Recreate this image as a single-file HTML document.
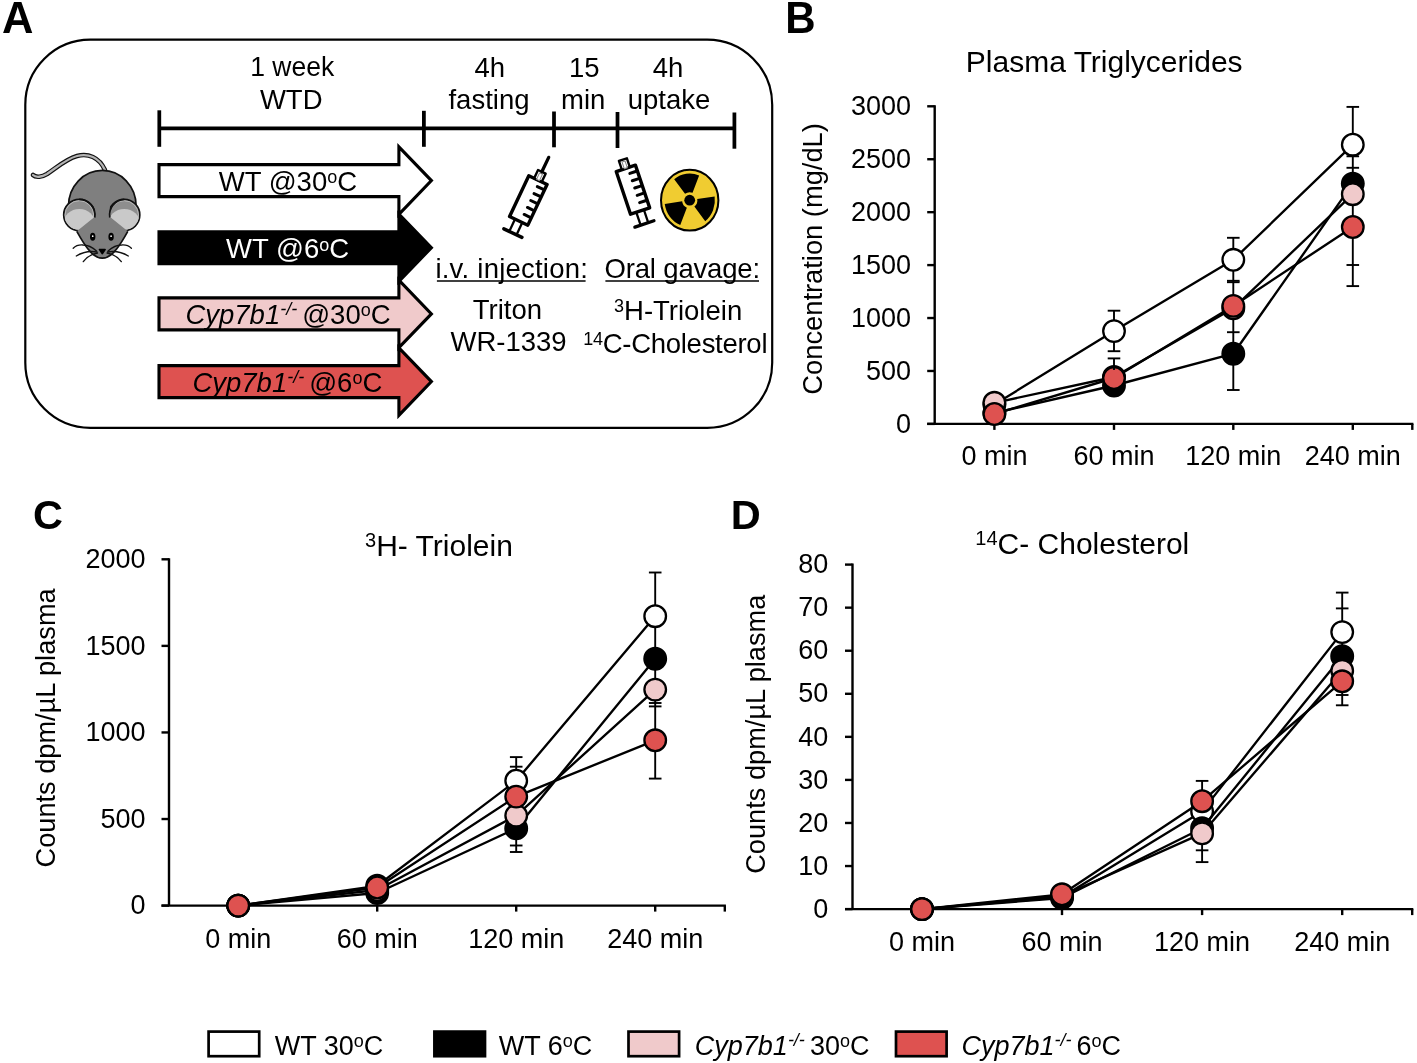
<!DOCTYPE html>
<html><head><meta charset="utf-8"><style>
html,body{margin:0;padding:0;background:#fff;overflow:hidden;}
svg{display:block;will-change:transform;}
text{font-family:"Liberation Sans",sans-serif;}
</style></head><body>
<svg width="1417" height="1063" viewBox="0 0 1417 1063" font-family="Liberation Sans, sans-serif">
<rect width="1417" height="1063" fill="#fff"/>
<text x="2.1" y="32.6" font-size="43.5" text-anchor="start" fill="#000" font-weight="bold">A</text>
<text x="785.3" y="32.8" font-size="42" text-anchor="start" fill="#000" font-weight="bold" transform="matrix(1,0,0,1.035,0,-1.148)">B</text>
<text x="33" y="529.1" font-size="41.5" text-anchor="start" fill="#000" font-weight="bold">C</text>
<text x="730.8" y="528.5" font-size="41.5" text-anchor="start" fill="#000" font-weight="bold">D</text>
<rect x="25.3" y="39.7" width="746.9" height="388.1" rx="65" ry="65" fill="none" stroke="#000" stroke-width="2.2"/>
<g stroke="#000" stroke-width="3.75" stroke-linecap="butt">
<line x1="159.3" y1="128.3" x2="734.4" y2="128.3"/>
<line x1="159.3" y1="110.3" x2="159.3" y2="146.8"/>
<line x1="423.9" y1="110.8" x2="423.9" y2="146.8"/>
<line x1="554" y1="111.5" x2="554" y2="147.3"/>
<line x1="617.5" y1="112" x2="617.5" y2="148"/>
<line x1="734.4" y1="112.5" x2="734.4" y2="148.7"/>
</g>
<text x="292.2" y="76.2" font-size="27.5" text-anchor="middle" fill="#000" textLength="84" lengthAdjust="spacingAndGlyphs">1 week</text>
<text x="291.2" y="108.8" font-size="27.5" text-anchor="middle" fill="#000">WTD</text>
<text x="489.7" y="77" font-size="27.5" text-anchor="middle" fill="#000">4h</text>
<text x="489" y="109" font-size="27.5" text-anchor="middle" fill="#000">fasting</text>
<text x="584.2" y="77" font-size="27.5" text-anchor="middle" fill="#000">15</text>
<text x="583.2" y="109" font-size="27.5" text-anchor="middle" fill="#000">min</text>
<text x="668" y="77" font-size="27.5" text-anchor="middle" fill="#000">4h</text>
<text x="669" y="109" font-size="27.5" text-anchor="middle" fill="#000">uptake</text>
<polygon points="159.0,164.6 398.9,164.6 398.9,146.89999999999998 431.4,180.6 398.9,214.3 398.9,196.6 159.0,196.6" fill="#fff" stroke="#000" stroke-width="3.1" stroke-linejoin="miter"/>
<text x="218.8" y="190.8" font-size="27.5" fill="#000">WT @30<tspan font-size="18" dy="-7.5">o</tspan><tspan dy="7.5">C</tspan></text>
<polygon points="159.0,231.7 398.9,231.7 398.9,214.0 431.4,247.7 398.9,281.4 398.9,263.7 159.0,263.7" fill="#000" stroke="#000" stroke-width="3.1" stroke-linejoin="miter"/>
<text x="226.1" y="258.2" font-size="27.5" fill="#fff">WT @6<tspan font-size="18" dy="-7.5">o</tspan><tspan dy="7.5">C</tspan></text>
<polygon points="159.0,297.9 398.9,297.9 398.9,280.2 431.4,313.9 398.9,347.59999999999997 398.9,329.9 159.0,329.9" fill="#f0cacb" stroke="#000" stroke-width="3.1" stroke-linejoin="miter"/>
<text x="185.4" y="323.6" font-size="27.5" fill="#000"><tspan font-style="italic">Cyp7b1</tspan><tspan font-style="italic" font-size="18" dy="-9">-/- </tspan><tspan dy="9">@30<tspan font-size="18" dy="-7.5">o</tspan><tspan dy="7.5">C</tspan></tspan></text>
<polygon points="159.0,365.6 398.9,365.6 398.9,347.90000000000003 431.4,381.6 398.9,415.3 398.9,397.6 159.0,397.6" fill="#de5250" stroke="#000" stroke-width="3.1" stroke-linejoin="miter"/>
<text x="192.4" y="391.8" font-size="27.5" fill="#000"><tspan font-style="italic">Cyp7b1</tspan><tspan font-style="italic" font-size="18" dy="-9">-/- </tspan><tspan dy="9">@6<tspan font-size="18" dy="-7.5">o</tspan><tspan dy="7.5">C</tspan></tspan></text>
<text x="435.4" y="277.7" font-size="27.5" textLength="152.5" lengthAdjust="spacing">i.v. injection:</text><line x1="436.9" y1="281" x2="585.6" y2="281" stroke="#000" stroke-width="1.7"/>
<text x="604.5" y="277.7" font-size="27.5" textLength="155.6" lengthAdjust="spacing">Oral gavage:</text><line x1="605.4" y1="281" x2="759" y2="281" stroke="#000" stroke-width="1.7"/>
<text x="507.4" y="318.7" font-size="27.5" text-anchor="middle" fill="#000">Triton</text>
<text x="508.5" y="351.3" font-size="27.5" text-anchor="middle" fill="#000">WR-1339</text>
<text x="614" y="320.3" font-size="27.5"><tspan font-size="18" dy="-8.4">3</tspan><tspan dy="8.4">H-Triolein</tspan></text>
<text x="583.2" y="353.2" font-size="27.5" textLength="184.3" lengthAdjust="spacing"><tspan font-size="18" dy="-8.4">14</tspan><tspan dy="8.4">C-Cholesterol</tspan></text>
<g transform="translate(528.4,200.3) rotate(25.3)" stroke="#000" fill="none" stroke-linecap="round" stroke-linejoin="round">
<rect x="-10.1" y="-22.3" width="20.2" height="45" fill="#fff" stroke-width="3.4"/>
<line x1="8.3" y1="-16.2" x2="2.2" y2="-16.2" stroke-width="3"/>
<line x1="8.3" y1="-8.5" x2="2.2" y2="-8.5" stroke-width="3"/>
<line x1="8.3" y1="-0.8" x2="2.2" y2="-0.8" stroke-width="3"/>
<line x1="8.3" y1="6.9" x2="2.2" y2="6.9" stroke-width="3"/>
<line x1="8.3" y1="14.6" x2="2.2" y2="14.6" stroke-width="3"/>
<rect x="-4.2" y="-31.5" width="8.4" height="9.2" fill="#fff" stroke-width="2.4"/>
<rect x="-1.6" y="-29.5" width="3.2" height="7" fill="#fff" stroke="#888" stroke-width="1"/>
<line x1="0" y1="-31.5" x2="0" y2="-47.5" stroke-width="3.3"/>
<line x1="-4" y1="22.7" x2="-4" y2="35" stroke-width="2.3"/>
<line x1="4" y1="22.7" x2="4" y2="35" stroke-width="2.3"/>
<line x1="-10" y1="36.3" x2="10" y2="36.3" stroke-width="3.4"/>
</g>
<g transform="translate(632.9,189.5) rotate(-18.5)" stroke="#000" fill="none" stroke-linecap="round" stroke-linejoin="round">
<rect x="-10.1" y="-22.3" width="20.2" height="45" fill="#fff" stroke-width="3.4"/>
<line x1="8.3" y1="-16.2" x2="2.2" y2="-16.2" stroke-width="3"/>
<line x1="8.3" y1="-8.5" x2="2.2" y2="-8.5" stroke-width="3"/>
<line x1="8.3" y1="-0.8" x2="2.2" y2="-0.8" stroke-width="3"/>
<line x1="8.3" y1="6.9" x2="2.2" y2="6.9" stroke-width="3"/>
<line x1="8.3" y1="14.6" x2="2.2" y2="14.6" stroke-width="3"/>
<rect x="-4.2" y="-31.5" width="8.4" height="9.2" fill="#fff" stroke-width="2.4"/>
<rect x="-1.6" y="-29.5" width="3.2" height="7" fill="#fff" stroke="#888" stroke-width="1"/>
<line x1="-4" y1="22.7" x2="-4" y2="35" stroke-width="2.3"/>
<line x1="4" y1="22.7" x2="4" y2="35" stroke-width="2.3"/>
<line x1="-10" y1="36.3" x2="10" y2="36.3" stroke-width="3.4"/>
</g>
<ellipse cx="689.7" cy="200.2" rx="28.7" ry="30.4" fill="#f0cc31" stroke="#000" stroke-width="2"/>
<path d="M692.55,192.73 L699.14,175.43 A25.2,26.712 0 0 0 674.19,179.15 L685.02,193.85 A7.6,7.6 0 0 1 692.55,192.73 Z" fill="#000"/>
<path d="M682.17,201.32 L664.75,203.92 A25.2,26.712 0 0 0 680.26,224.97 L686.85,207.67 A7.6,7.6 0 0 1 682.17,201.32 Z" fill="#000"/>
<path d="M694.38,206.55 L705.21,221.25 A25.2,26.712 0 0 0 714.65,196.48 L697.23,199.08 A7.6,7.6 0 0 1 694.38,206.55 Z" fill="#000"/>
<circle cx="689.7" cy="200.2" r="5.4" fill="#000"/>
<path d="M105,170 C99,157 88,153 77,156 C66,159 56,168 47,174 C42,177 36,178 33,175" fill="none" stroke="#111" stroke-width="4.6" stroke-linecap="round"/>
<path d="M105,170 C99,157 88,153 77,156 C66,159 56,168 47,174 C42,177 36,178 33,175" fill="none" stroke="#b4b4b4" stroke-width="2.3" stroke-linecap="round"/>
<g stroke="#111" stroke-width="1.7" stroke-linejoin="round">
<ellipse cx="102.3" cy="206" rx="33.8" ry="35.6" fill="#7f7f7f"/>
<circle cx="79.3" cy="215" r="15.6" fill="#8e8e8e"/>
<clipPath id="ec79"><circle cx="79.3" cy="215" r="14.8"/></clipPath>
<circle cx="79.3" cy="215" r="14.3" fill="none" stroke="#b8b8b8" stroke-width="1"/>
<ellipse cx="79.3" cy="223.5" rx="16" ry="14.5" fill="#c9c9c9" stroke="none" clip-path="url(#ec79)"/>
<circle cx="124.2" cy="215" r="15.6" fill="#8e8e8e"/>
<clipPath id="ec124"><circle cx="124.2" cy="215" r="14.8"/></clipPath>
<circle cx="124.2" cy="215" r="14.3" fill="none" stroke="#b8b8b8" stroke-width="1"/>
<ellipse cx="124.2" cy="223.5" rx="16" ry="14.5" fill="#c9c9c9" stroke="none" clip-path="url(#ec124)"/>
<path d="M94.8,205 L94.8,216.8 L76.8,231.3 C80,237 84,244 88,249 Q95,258.2 102.3,258.2 Q109.6,258.2 116.6,249 C120.6,244 124.6,237 127.8,231.3 L109.8,216.8 L109.8,205 Z" fill="#7f7f7f" stroke="none"/>
<path d="M76.8,231.3 C80,237 84,244 88,249 Q95,258.2 102.3,258.2 Q109.6,258.2 116.6,249 C120.6,244 124.6,237 127.8,231.3" fill="none"/>
</g>
<path d="M94.8,217.5 A15.6,15.6 0 0 0 79.3,199.4" fill="none" stroke="#111" stroke-width="1.7"/>
<path d="M109.8,217.5 A15.6,15.6 0 0 1 124.2,199.4" fill="none" stroke="#111" stroke-width="1.7"/>
<ellipse cx="92.7" cy="236.7" rx="2.7" ry="4" fill="#000"/>
<circle cx="92.7" cy="236.2" r="0.85" fill="#fff"/>
<ellipse cx="111.1" cy="236.7" rx="2.7" ry="4" fill="#000"/>
<circle cx="111.1" cy="236.2" r="0.85" fill="#fff"/>
<path d="M99.6,249.6 L105.0,249.6 L102.3,253.6 Z" fill="#000" stroke="#000" stroke-width="1.8" stroke-linejoin="round"/>
<g stroke="#111" stroke-width="1.35" fill="none" stroke-linecap="round">
<path d="M96.5,251 Q90,245 83,245 Q77,244.5 73.2,248.2"/>
<path d="M97,252 Q86,250 76.3,256"/>
<path d="M97.5,253 Q88,255 83.3,261.6"/>
<path d="M108.1,251 Q114.6,245 121.6,245 Q127.6,244.5 131.4,248.2"/>
<path d="M107.6,252 Q118.6,250 128.3,256"/>
<path d="M107.1,253 Q116.6,255 121.3,261.6"/>
</g>
<g stroke="#000" stroke-width="2.4">
<line x1="934.7" y1="105.2" x2="934.7" y2="423.9"/>
<line x1="927.2" y1="423.9" x2="1413.3999999999999" y2="423.9"/>
<line x1="927.2" y1="106.30" x2="934.7" y2="106.30"/>
<line x1="927.2" y1="159.23" x2="934.7" y2="159.23"/>
<line x1="927.2" y1="212.17" x2="934.7" y2="212.17"/>
<line x1="927.2" y1="265.10" x2="934.7" y2="265.10"/>
<line x1="927.2" y1="318.03" x2="934.7" y2="318.03"/>
<line x1="927.2" y1="370.97" x2="934.7" y2="370.97"/>
<line x1="927.2" y1="423.90" x2="934.7" y2="423.90"/>
<line x1="994.4" y1="423.9" x2="994.4" y2="429.9"/>
<line x1="1114" y1="423.9" x2="1114" y2="429.9"/>
<line x1="1233.3" y1="423.9" x2="1233.3" y2="429.9"/>
<line x1="1352.8" y1="423.9" x2="1352.8" y2="429.9"/>
<line x1="1412.3" y1="423.9" x2="1412.3" y2="429.9"/>
</g>
<text x="911" y="115.00" font-size="27" text-anchor="end" fill="#000" transform="matrix(1,0,0,1.05,0,-5.750)">3000</text>
<text x="911" y="167.93" font-size="27" text-anchor="end" fill="#000" transform="matrix(1,0,0,1.05,0,-8.397)">2500</text>
<text x="911" y="220.87" font-size="27" text-anchor="end" fill="#000" transform="matrix(1,0,0,1.05,0,-11.043)">2000</text>
<text x="911" y="273.80" font-size="27" text-anchor="end" fill="#000" transform="matrix(1,0,0,1.05,0,-13.690)">1500</text>
<text x="911" y="326.73" font-size="27" text-anchor="end" fill="#000" transform="matrix(1,0,0,1.05,0,-16.337)">1000</text>
<text x="911" y="379.67" font-size="27" text-anchor="end" fill="#000" transform="matrix(1,0,0,1.05,0,-18.983)">500</text>
<text x="911" y="432.60" font-size="27" text-anchor="end" fill="#000" transform="matrix(1,0,0,1.05,0,-21.630)">0</text>
<text x="994.4" y="465" font-size="27" text-anchor="middle" fill="#000">0 min</text>
<text x="1114" y="465" font-size="27" text-anchor="middle" fill="#000">60 min</text>
<text x="1233.3" y="465" font-size="27" text-anchor="middle" fill="#000">120 min</text>
<text x="1352.8" y="465" font-size="27" text-anchor="middle" fill="#000">240 min</text>
<text transform="translate(821.5,258.9) rotate(-90)" x="0" y="0" font-size="27.3" text-anchor="middle">Concentration (mg/dL)</text>
<text x="1104.2" y="71.8" font-size="30" text-anchor="middle">Plasma Triglycerides</text>
<g stroke="#000" stroke-width="1.9">
<line x1="1114" y1="310.7" x2="1114" y2="351.2"/>
<line x1="1107.7" y1="310.7" x2="1120.3" y2="310.7"/>
<line x1="1107.7" y1="351.2" x2="1120.3" y2="351.2"/>
<line x1="1233.3" y1="237.8" x2="1233.3" y2="390"/>
<line x1="1227.0" y1="237.8" x2="1239.6" y2="237.8"/>
<line x1="1227.0" y1="280.8" x2="1239.6" y2="280.8"/>
<line x1="1227.0" y1="282.2" x2="1239.6" y2="282.2"/>
<line x1="1227.0" y1="332.2" x2="1239.6" y2="332.2"/>
<line x1="1227.0" y1="390" x2="1239.6" y2="390"/>
<line x1="1352.8" y1="106.9" x2="1352.8" y2="286.1"/>
<line x1="1346.5" y1="106.9" x2="1359.1" y2="106.9"/>
<line x1="1346.5" y1="156.3" x2="1359.1" y2="156.3"/>
<line x1="1346.5" y1="167.8" x2="1359.1" y2="167.8"/>
<line x1="1346.5" y1="265" x2="1359.1" y2="265"/>
<line x1="1346.5" y1="286.1" x2="1359.1" y2="286.1"/>
</g>
<polyline points="994.4,404.5 1114,331.1 1233.3,259.8 1352.8,144.7" fill="none" stroke="#000" stroke-width="2.35" stroke-linejoin="round"/>
<circle cx="994.4" cy="404.5" r="10.8" fill="#fff" stroke="#000" stroke-width="2.3"/>
<circle cx="1114" cy="331.1" r="10.8" fill="#fff" stroke="#000" stroke-width="2.3"/>
<circle cx="1233.3" cy="259.8" r="10.8" fill="#fff" stroke="#000" stroke-width="2.3"/>
<circle cx="1352.8" cy="144.7" r="10.8" fill="#fff" stroke="#000" stroke-width="2.3"/>
<polyline points="994.4,413 1114,385.5 1233.3,353.7 1352.8,183.6" fill="none" stroke="#000" stroke-width="2.35" stroke-linejoin="round"/>
<circle cx="994.4" cy="413" r="10.8" fill="#000" stroke="#000" stroke-width="2.3"/>
<circle cx="1114" cy="385.5" r="10.8" fill="#000" stroke="#000" stroke-width="2.3"/>
<circle cx="1233.3" cy="353.7" r="10.8" fill="#000" stroke="#000" stroke-width="2.3"/>
<circle cx="1352.8" cy="183.6" r="10.8" fill="#000" stroke="#000" stroke-width="2.3"/>
<polyline points="994.4,402.8 1114,377 1233.3,308.3 1352.8,194.2" fill="none" stroke="#000" stroke-width="2.35" stroke-linejoin="round"/>
<circle cx="994.4" cy="402.8" r="10.8" fill="#f0cacb" stroke="#000" stroke-width="2.3"/>
<circle cx="1114" cy="377" r="10.8" fill="#f0cacb" stroke="#000" stroke-width="2.3"/>
<circle cx="1233.3" cy="308.3" r="10.8" fill="#f0cacb" stroke="#000" stroke-width="2.3"/>
<circle cx="1352.8" cy="194.2" r="10.8" fill="#f0cacb" stroke="#000" stroke-width="2.3"/>
<polyline points="994.4,414 1114,378 1233.3,305.9 1352.8,227" fill="none" stroke="#000" stroke-width="2.35" stroke-linejoin="round"/>
<circle cx="994.4" cy="414" r="10.8" fill="#de5250" stroke="#000" stroke-width="2.3"/>
<circle cx="1114" cy="378" r="10.8" fill="#de5250" stroke="#000" stroke-width="2.3"/>
<circle cx="1233.3" cy="305.9" r="10.8" fill="#de5250" stroke="#000" stroke-width="2.3"/>
<circle cx="1352.8" cy="227" r="10.8" fill="#de5250" stroke="#000" stroke-width="2.3"/>
<g stroke="#000" stroke-width="1.9"><line x1="1114" y1="358.4" x2="1114" y2="370"/><line x1="1107.7" y1="358.4" x2="1120.3" y2="358.4"/></g>
<g stroke="#000" stroke-width="2.4">
<line x1="169" y1="558.1999999999999" x2="169" y2="905.6"/>
<line x1="161.5" y1="905.6" x2="725.9" y2="905.6"/>
<line x1="161.5" y1="559.30" x2="169" y2="559.30"/>
<line x1="161.5" y1="645.88" x2="169" y2="645.88"/>
<line x1="161.5" y1="732.45" x2="169" y2="732.45"/>
<line x1="161.5" y1="819.02" x2="169" y2="819.02"/>
<line x1="161.5" y1="905.60" x2="169" y2="905.60"/>
<line x1="238.2" y1="905.6" x2="238.2" y2="911.6"/>
<line x1="377.2" y1="905.6" x2="377.2" y2="911.6"/>
<line x1="516.2" y1="905.6" x2="516.2" y2="911.6"/>
<line x1="655.2" y1="905.6" x2="655.2" y2="911.6"/>
<line x1="724.8" y1="905.6" x2="724.8" y2="911.6"/>
</g>
<text x="145.5" y="568.00" font-size="27" text-anchor="end" fill="#000" transform="matrix(1,0,0,1.05,0,-28.400)">2000</text>
<text x="145.5" y="654.58" font-size="27" text-anchor="end" fill="#000" transform="matrix(1,0,0,1.05,0,-32.729)">1500</text>
<text x="145.5" y="741.15" font-size="27" text-anchor="end" fill="#000" transform="matrix(1,0,0,1.05,0,-37.058)">1000</text>
<text x="145.5" y="827.73" font-size="27" text-anchor="end" fill="#000" transform="matrix(1,0,0,1.05,0,-41.386)">500</text>
<text x="145.5" y="914.30" font-size="27" text-anchor="end" fill="#000" transform="matrix(1,0,0,1.05,0,-45.715)">0</text>
<text x="238.2" y="948" font-size="27" text-anchor="middle" fill="#000">0 min</text>
<text x="377.2" y="948" font-size="27" text-anchor="middle" fill="#000">60 min</text>
<text x="516.2" y="948" font-size="27" text-anchor="middle" fill="#000">120 min</text>
<text x="655.2" y="948" font-size="27" text-anchor="middle" fill="#000">240 min</text>
<text transform="translate(55.1,727.9) rotate(-90)" x="0" y="0" font-size="27.2" text-anchor="middle">Counts dpm/µL plasma</text>
<text x="365" y="555.8" font-size="30"><tspan font-size="20" dy="-8.8">3</tspan><tspan dy="8.8">H- Triolein</tspan></text>
<g stroke="#000" stroke-width="1.9">
<line x1="516.2" y1="757.1" x2="516.2" y2="852"/>
<line x1="509.90000000000003" y1="757.1" x2="522.5" y2="757.1"/>
<line x1="509.90000000000003" y1="766.7" x2="522.5" y2="766.7"/>
<line x1="509.90000000000003" y1="845.5" x2="522.5" y2="845.5"/>
<line x1="509.90000000000003" y1="852" x2="522.5" y2="852"/>
<line x1="655.2" y1="572.5" x2="655.2" y2="778.6"/>
<line x1="648.9000000000001" y1="572.5" x2="661.5" y2="572.5"/>
<line x1="648.9000000000001" y1="703" x2="661.5" y2="703"/>
<line x1="648.9000000000001" y1="706.4" x2="661.5" y2="706.4"/>
<line x1="648.9000000000001" y1="778.6" x2="661.5" y2="778.6"/>
</g>
<polyline points="238.2,905.6 377.2,885.8 516.2,780.7 655.2,616.2" fill="none" stroke="#000" stroke-width="2.35" stroke-linejoin="round"/>
<circle cx="238.2" cy="905.6" r="10.8" fill="#fff" stroke="#000" stroke-width="2.3"/>
<circle cx="377.2" cy="885.8" r="10.8" fill="#fff" stroke="#000" stroke-width="2.3"/>
<circle cx="516.2" cy="780.7" r="10.8" fill="#fff" stroke="#000" stroke-width="2.3"/>
<circle cx="655.2" cy="616.2" r="10.8" fill="#fff" stroke="#000" stroke-width="2.3"/>
<polyline points="238.2,905.6 377.2,893 516.2,828.4 655.2,658.7" fill="none" stroke="#000" stroke-width="2.35" stroke-linejoin="round"/>
<circle cx="238.2" cy="905.6" r="10.8" fill="#000" stroke="#000" stroke-width="2.3"/>
<circle cx="377.2" cy="893" r="10.8" fill="#000" stroke="#000" stroke-width="2.3"/>
<circle cx="516.2" cy="828.4" r="10.8" fill="#000" stroke="#000" stroke-width="2.3"/>
<circle cx="655.2" cy="658.7" r="10.8" fill="#000" stroke="#000" stroke-width="2.3"/>
<polyline points="238.2,905.6 377.2,890 516.2,815.6 655.2,689.6" fill="none" stroke="#000" stroke-width="2.35" stroke-linejoin="round"/>
<circle cx="238.2" cy="905.6" r="10.8" fill="#f0cacb" stroke="#000" stroke-width="2.3"/>
<circle cx="377.2" cy="890" r="10.8" fill="#f0cacb" stroke="#000" stroke-width="2.3"/>
<circle cx="516.2" cy="815.6" r="10.8" fill="#f0cacb" stroke="#000" stroke-width="2.3"/>
<circle cx="655.2" cy="689.6" r="10.8" fill="#f0cacb" stroke="#000" stroke-width="2.3"/>
<polyline points="238.2,905.6 377.2,887.5 516.2,796.6 655.2,740.3" fill="none" stroke="#000" stroke-width="2.35" stroke-linejoin="round"/>
<circle cx="238.2" cy="905.6" r="10.8" fill="#de5250" stroke="#000" stroke-width="2.3"/>
<circle cx="377.2" cy="887.5" r="10.8" fill="#de5250" stroke="#000" stroke-width="2.3"/>
<circle cx="516.2" cy="796.6" r="10.8" fill="#de5250" stroke="#000" stroke-width="2.3"/>
<circle cx="655.2" cy="740.3" r="10.8" fill="#de5250" stroke="#000" stroke-width="2.3"/>
<g stroke="#000" stroke-width="2.4">
<line x1="852.5" y1="563.5" x2="852.5" y2="909.1"/>
<line x1="845.0" y1="909.1" x2="1413.3" y2="909.1"/>
<line x1="845.0" y1="564.60" x2="852.5" y2="564.60"/>
<line x1="845.0" y1="607.66" x2="852.5" y2="607.66"/>
<line x1="845.0" y1="650.73" x2="852.5" y2="650.73"/>
<line x1="845.0" y1="693.79" x2="852.5" y2="693.79"/>
<line x1="845.0" y1="736.85" x2="852.5" y2="736.85"/>
<line x1="845.0" y1="779.91" x2="852.5" y2="779.91"/>
<line x1="845.0" y1="822.98" x2="852.5" y2="822.98"/>
<line x1="845.0" y1="866.04" x2="852.5" y2="866.04"/>
<line x1="845.0" y1="909.10" x2="852.5" y2="909.10"/>
<line x1="922" y1="909.1" x2="922" y2="915.1"/>
<line x1="1062" y1="909.1" x2="1062" y2="915.1"/>
<line x1="1202.1" y1="909.1" x2="1202.1" y2="915.1"/>
<line x1="1342.2" y1="909.1" x2="1342.2" y2="915.1"/>
<line x1="1412.2" y1="909.1" x2="1412.2" y2="915.1"/>
</g>
<text x="828.3" y="573.30" font-size="27" text-anchor="end" fill="#000" transform="matrix(1,0,0,1.05,0,-28.665)">80</text>
<text x="828.3" y="616.36" font-size="27" text-anchor="end" fill="#000" transform="matrix(1,0,0,1.05,0,-30.818)">70</text>
<text x="828.3" y="659.43" font-size="27" text-anchor="end" fill="#000" transform="matrix(1,0,0,1.05,0,-32.971)">60</text>
<text x="828.3" y="702.49" font-size="27" text-anchor="end" fill="#000" transform="matrix(1,0,0,1.05,0,-35.124)">50</text>
<text x="828.3" y="745.55" font-size="27" text-anchor="end" fill="#000" transform="matrix(1,0,0,1.05,0,-37.278)">40</text>
<text x="828.3" y="788.61" font-size="27" text-anchor="end" fill="#000" transform="matrix(1,0,0,1.05,0,-39.431)">30</text>
<text x="828.3" y="831.68" font-size="27" text-anchor="end" fill="#000" transform="matrix(1,0,0,1.05,0,-41.584)">20</text>
<text x="828.3" y="874.74" font-size="27" text-anchor="end" fill="#000" transform="matrix(1,0,0,1.05,0,-43.737)">10</text>
<text x="828.3" y="917.80" font-size="27" text-anchor="end" fill="#000" transform="matrix(1,0,0,1.05,0,-45.890)">0</text>
<text x="922" y="950.5" font-size="27" text-anchor="middle" fill="#000">0 min</text>
<text x="1062" y="950.5" font-size="27" text-anchor="middle" fill="#000">60 min</text>
<text x="1202.1" y="950.5" font-size="27" text-anchor="middle" fill="#000">120 min</text>
<text x="1342.2" y="950.5" font-size="27" text-anchor="middle" fill="#000">240 min</text>
<text transform="translate(765,734.2) rotate(-90)" x="0" y="0" font-size="27.2" text-anchor="middle">Counts dpm/µL plasma</text>
<text x="975.3" y="553.7" font-size="30"><tspan font-size="20" dy="-9">14</tspan><tspan dy="9">C- Cholesterol</tspan></text>
<g stroke="#000" stroke-width="1.9">
<line x1="1202.1" y1="780.9" x2="1202.1" y2="862.1"/>
<line x1="1195.8" y1="780.9" x2="1208.3999999999999" y2="780.9"/>
<line x1="1195.8" y1="850.3" x2="1208.3999999999999" y2="850.3"/>
<line x1="1195.8" y1="862.1" x2="1208.3999999999999" y2="862.1"/>
<line x1="1342.2" y1="592.6" x2="1342.2" y2="705.3"/>
<line x1="1335.9" y1="592.6" x2="1348.5" y2="592.6"/>
<line x1="1335.9" y1="608.4" x2="1348.5" y2="608.4"/>
<line x1="1335.9" y1="695" x2="1348.5" y2="695"/>
<line x1="1335.9" y1="705.3" x2="1348.5" y2="705.3"/>
</g>
<polyline points="922,909.1 1062,897 1202.1,811.4 1342.2,632.1" fill="none" stroke="#000" stroke-width="2.35" stroke-linejoin="round"/>
<circle cx="922" cy="909.1" r="10.8" fill="#fff" stroke="#000" stroke-width="2.3"/>
<circle cx="1062" cy="897" r="10.8" fill="#fff" stroke="#000" stroke-width="2.3"/>
<circle cx="1202.1" cy="811.4" r="10.8" fill="#fff" stroke="#000" stroke-width="2.3"/>
<circle cx="1342.2" cy="632.1" r="10.8" fill="#fff" stroke="#000" stroke-width="2.3"/>
<polyline points="922,909.1 1062,898 1202.1,828.3 1342.2,656.3" fill="none" stroke="#000" stroke-width="2.35" stroke-linejoin="round"/>
<circle cx="922" cy="909.1" r="10.8" fill="#000" stroke="#000" stroke-width="2.3"/>
<circle cx="1062" cy="898" r="10.8" fill="#000" stroke="#000" stroke-width="2.3"/>
<circle cx="1202.1" cy="828.3" r="10.8" fill="#000" stroke="#000" stroke-width="2.3"/>
<circle cx="1342.2" cy="656.3" r="10.8" fill="#000" stroke="#000" stroke-width="2.3"/>
<polyline points="922,909.1 1062,896 1202.1,833.4 1342.2,670.8" fill="none" stroke="#000" stroke-width="2.35" stroke-linejoin="round"/>
<circle cx="922" cy="909.1" r="10.8" fill="#f0cacb" stroke="#000" stroke-width="2.3"/>
<circle cx="1062" cy="896" r="10.8" fill="#f0cacb" stroke="#000" stroke-width="2.3"/>
<circle cx="1202.1" cy="833.4" r="10.8" fill="#f0cacb" stroke="#000" stroke-width="2.3"/>
<circle cx="1342.2" cy="670.8" r="10.8" fill="#f0cacb" stroke="#000" stroke-width="2.3"/>
<polyline points="922,909.1 1062,894.3 1202.1,801.2 1342.2,681.3" fill="none" stroke="#000" stroke-width="2.35" stroke-linejoin="round"/>
<circle cx="922" cy="909.1" r="10.8" fill="#de5250" stroke="#000" stroke-width="2.3"/>
<circle cx="1062" cy="894.3" r="10.8" fill="#de5250" stroke="#000" stroke-width="2.3"/>
<circle cx="1202.1" cy="801.2" r="10.8" fill="#de5250" stroke="#000" stroke-width="2.3"/>
<circle cx="1342.2" cy="681.3" r="10.8" fill="#de5250" stroke="#000" stroke-width="2.3"/>
<rect x="208.6" y="1031.6" width="50.6" height="24.6" fill="#fff" stroke="#000" stroke-width="2.7"/>
<rect x="434.4" y="1031.6" width="50.6" height="24.6" fill="#000" stroke="#000" stroke-width="2.7"/>
<rect x="628.5" y="1031.6" width="50.6" height="24.6" fill="#f0cacb" stroke="#000" stroke-width="2.7"/>
<rect x="896" y="1031.6" width="50.6" height="24.6" fill="#de5250" stroke="#000" stroke-width="2.7"/>
<text x="274.7" y="1054.8" font-size="27">WT 30<tspan font-size="18" dy="-7.5">o</tspan><tspan dy="7.5">C</tspan></text>
<text x="498.8" y="1054.8" font-size="27">WT 6<tspan font-size="18" dy="-7.5">o</tspan><tspan dy="7.5">C</tspan></text>
<text x="694.8" y="1054.8" font-size="27"><tspan font-style="italic">Cyp7b1</tspan><tspan font-style="italic" font-size="18" dy="-9">-/- </tspan><tspan dy="9">30</tspan><tspan font-size="18" dy="-7.5">o</tspan><tspan dy="7.5">C</tspan></text>
<text x="961.4" y="1054.8" font-size="27"><tspan font-style="italic">Cyp7b1</tspan><tspan font-style="italic" font-size="18" dy="-9">-/- </tspan><tspan dy="9">6</tspan><tspan font-size="18" dy="-7.5">o</tspan><tspan dy="7.5">C</tspan></text>
</svg></body></html>
